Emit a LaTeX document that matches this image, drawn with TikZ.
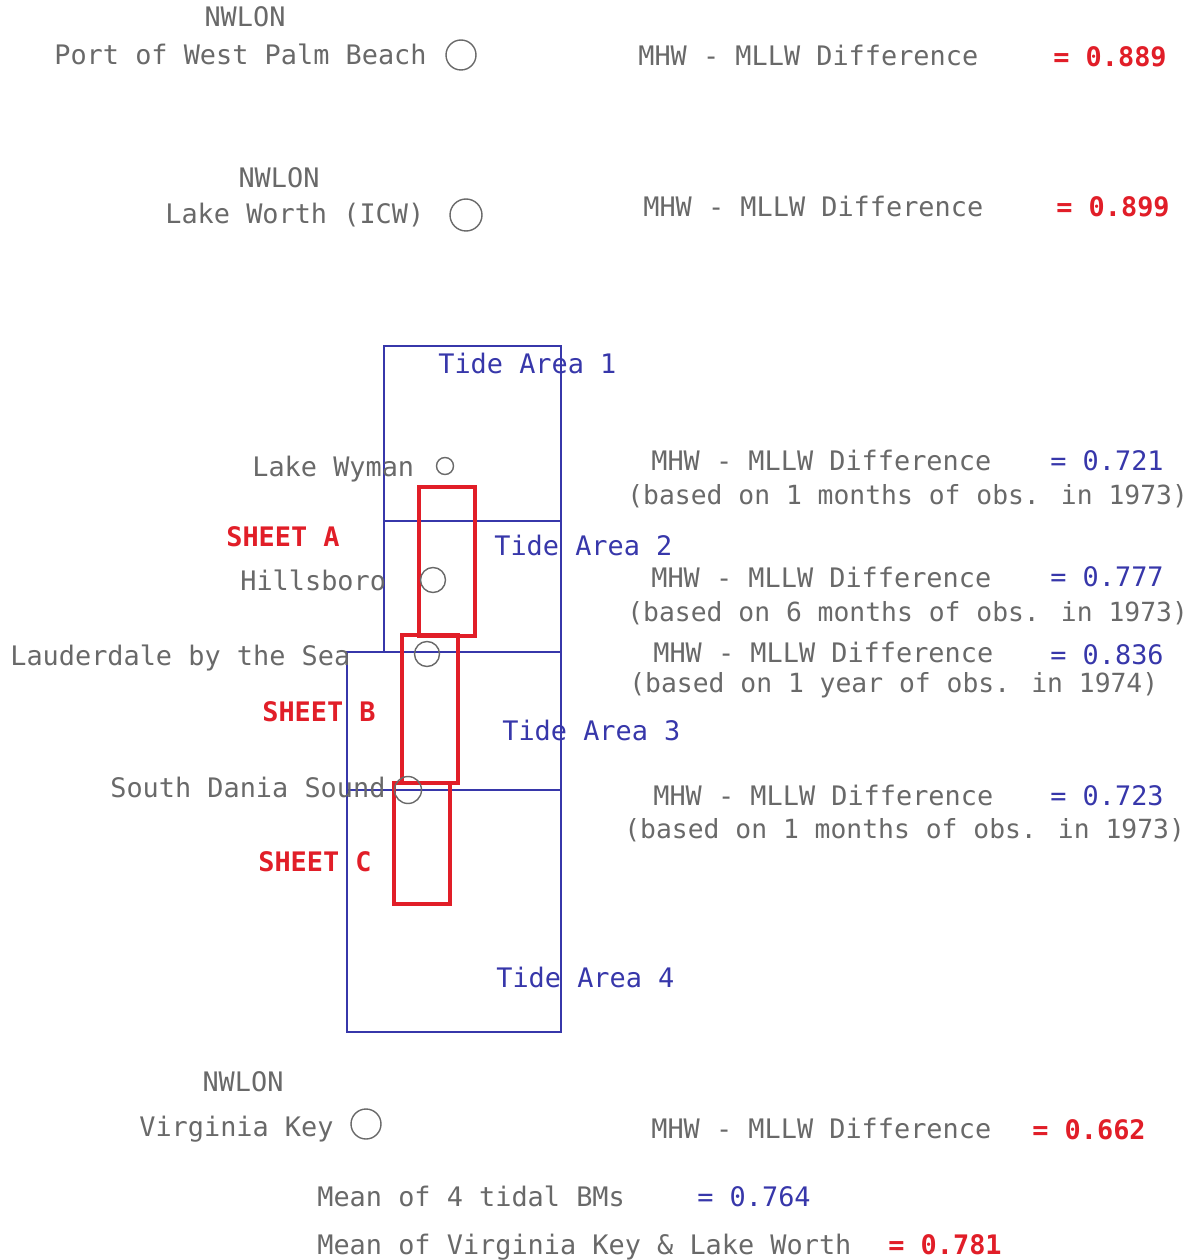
\documentclass[tikz,border=0pt]{standalone}
\usepackage{fontspec}
\newfontfamily\plotfont{DejaVu Sans Mono}
\definecolor{inkgrey}{RGB}{105,105,105}
\definecolor{areablue}{RGB}{55,55,170}
\definecolor{sheetred}{RGB}{225,30,40}
\begin{document}
\begin{tikzpicture}[x=0.02cm, y=-0.02cm,
    lbl/.style={font=\plotfont\fontsize{15.3}{18}\selectfont, text=inkgrey, inner sep=0pt, anchor=west, text height=11pt, text depth=0pt},
    obs/.style={lbl, font=\plotfont\fontsize{15}{18}\selectfont},
    blulbl/.style={lbl, text=areablue},
    redlbl/.style={lbl, text=sheetred, font=\plotfont\fontsize{15.3}{18}\selectfont\bfseries},
    area/.style={draw=areablue, line width=0.9pt},
    sheet/.style={draw=sheetred, line width=2pt},
    stn/.style={circle, draw=inkgrey, line width=0.8pt, inner sep=0pt}]
    \useasboundingbox (0,0) rectangle (1195,1260);

    % NWLON stations at the top
    \node[lbl, anchor=center] (nwlon1) at (245,17) {NWLON};
    \node[lbl] (wpb) at (54,55) {Port of West Palm Beach};
    \node[stn, minimum size=0.6cm] (wpbc) at (461,55) {};
    \node[lbl] (wpbd) at (638,56) {MHW - MLLW Difference};
    \node[redlbl] (wpbv) at (1053,57) {= 0.889};

    \node[lbl, anchor=center] (nwlon2) at (279,178) {NWLON};
    \node[lbl] (lw) at (165,214) {Lake Worth (ICW)};
    \node[stn, minimum size=0.64cm] (lwc) at (466,215) {};
    \node[lbl] (lwd) at (643,207) {MHW - MLLW Difference};
    \node[redlbl] (lwv) at (1056,207) {= 0.899};

    % tide areas
    \draw[area] (384,346) rectangle (561,521);
    \draw[area] (384,521) rectangle (561,652);
    \draw[area] (347,652) rectangle (561,790);
    \draw[area] (347,790) rectangle (561,1032);
    \node[blulbl] (ta1) at (438,364) {Tide Area 1};
    \node[blulbl] (ta2) at (494,546) {Tide Area 2};
    \node[blulbl] (ta3) at (502,731) {Tide Area 3};
    \node[blulbl] (ta4) at (496,978) {Tide Area 4};

    % sheets
    \draw[sheet] (419,487) rectangle (475,636);
    \draw[sheet] (402,635) rectangle (458,783);
    \draw[sheet] (394,783) rectangle (450,904);
    \node[redlbl] (sha) at (226,537) {SHEET A};
    \node[redlbl] (shb) at (262,712) {SHEET B};
    \node[redlbl] (shc) at (258,862) {SHEET C};

    % tidal bench marks
    \node[lbl] (wy) at (252,467) {Lake Wyman};
    \node[stn, minimum size=0.34cm] (wyc) at (445,466) {};
    \node[lbl] (hb) at (240,581) {Hillsboro};
    \node[stn, minimum size=0.5cm] (hbc) at (433,580) {};
    \node[lbl] (lbs) at (10,656) {Lauderdale by the Sea};
    \node[stn, minimum size=0.5cm] (lbsc) at (427,654) {};
    \node[lbl] (sds) at (110,788) {South Dania Sound};
    \node[stn, minimum size=0.54cm] (sdsc) at (408,790) {};

    \node[lbl] (wyd) at (651,461) {MHW - MLLW Difference};
    \node[blulbl] (wyv) at (1050,461) {= 0.721};
    \node[obs] (wyb) at (627,495) {(based on 1 months of obs. in 1973)};
    \node[lbl] (hbd) at (651,578) {MHW - MLLW Difference};
    \node[blulbl] (hbv) at (1050,577) {= 0.777};
    \node[obs] (hbb) at (627,612) {(based on 6 months of obs. in 1973)};
    \node[lbl] (lbsd) at (653,653) {MHW - MLLW Difference};
    \node[blulbl] (lbsv) at (1050,655) {= 0.836};
    \node[obs] (lbsb) at (629,683) {(based on 1 year of obs. in 1974)};
    \node[lbl] (sdsd) at (653,796) {MHW - MLLW Difference};
    \node[blulbl] (sdsv) at (1050,796) {= 0.723};
    \node[obs] (sdsb) at (624,829) {(based on 1 months of obs. in 1973)};

    % NWLON station at the bottom and means
    \node[lbl, anchor=center] (nwlon3) at (243,1082) {NWLON};
    \node[lbl] (vk) at (139,1127) {Virginia Key};
    \node[stn, minimum size=0.6cm] (vkc) at (366,1124) {};
    \node[lbl] (vkd) at (651,1129) {MHW - MLLW Difference};
    \node[redlbl] (vkv) at (1032,1130) {= 0.662};

    \node[lbl] (m4) at (317,1197) {Mean of 4 tidal BMs};
    \node[blulbl] (m4v) at (697,1197) {= 0.764};
    \node[lbl] (mvl) at (317,1245) {Mean of Virginia Key \& Lake Worth};
    \node[redlbl] (mvlv) at (888,1245) {= 0.781};
\end{tikzpicture}
\end{document}
